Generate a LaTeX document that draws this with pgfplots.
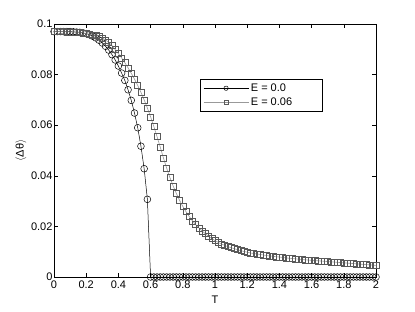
\documentclass[border=0pt]{standalone}
\usepackage{pgfplots}
\pgfplotsset{compat=1.18}
\usepackage{pgfplotstable}
\usepackage{fontspec}
\setmainfont{Liberation Sans}

\pgfplotstableread{
x y
0.00 0.0970
0.02 0.0970
0.04 0.0970
0.06 0.0970
0.08 0.0970
0.10 0.0970
0.12 0.0969
0.14 0.0968
0.16 0.0967
0.18 0.0965
0.20 0.0962
0.22 0.0958
0.24 0.0952
0.26 0.0945
0.28 0.0936
0.30 0.0925
0.32 0.0912
0.34 0.0897
0.36 0.0879
0.38 0.0858
0.40 0.0834
0.42 0.0806
0.44 0.0777
0.46 0.0740
0.48 0.0698
0.50 0.0648
0.52 0.0590
0.54 0.0517
0.56 0.0428
0.58 0.0307
0.60 0
0.62 0
0.64 0
0.66 0
0.68 0
0.70 0
0.72 0
0.74 0
0.76 0
0.78 0
0.80 0
0.82 0
0.84 0
0.86 0
0.88 0
0.90 0
0.92 0
0.94 0
0.96 0
0.98 0
1.00 0
1.02 0
1.04 0
1.06 0
1.08 0
1.10 0
1.12 0
1.14 0
1.16 0
1.18 0
1.20 0
1.22 0
1.24 0
1.26 0
1.28 0
1.30 0
1.32 0
1.34 0
1.36 0
1.38 0
1.40 0
1.42 0
1.44 0
1.46 0
1.48 0
1.50 0
1.52 0
1.54 0
1.56 0
1.58 0
1.60 0
1.62 0
1.64 0
1.66 0
1.68 0
1.70 0
1.72 0
1.74 0
1.76 0
1.78 0
1.80 0
1.82 0
1.84 0
1.86 0
1.88 0
1.90 0
1.92 0
1.94 0
1.96 0
1.98 0
2.00 0
}\dataA

\pgfplotstableread{
x y
0.00 0.0970
0.02 0.0970
0.04 0.0970
0.06 0.0970
0.08 0.0969
0.10 0.0969
0.12 0.0968
0.14 0.0967
0.16 0.0966
0.18 0.0964
0.20 0.0962
0.22 0.0960
0.24 0.0957
0.26 0.0954
0.28 0.0950
0.30 0.0945
0.32 0.0937
0.34 0.0927
0.36 0.0915
0.38 0.0899
0.40 0.0883
0.42 0.0866
0.44 0.0847
0.46 0.0827
0.48 0.0805
0.50 0.0782
0.52 0.0757
0.54 0.0730
0.56 0.0700
0.58 0.0668
0.60 0.0633
0.62 0.0595
0.64 0.0555
0.66 0.0513
0.68 0.0470
0.70 0.0430
0.72 0.0393
0.74 0.0360
0.76 0.0330
0.78 0.0303
0.80 0.0279
0.82 0.0258
0.84 0.0239
0.86 0.0222
0.88 0.0207
0.90 0.0194
0.92 0.0182
0.94 0.0171
0.96 0.0161
0.98 0.0152
1.00 0.0144
1.02 0.0137
1.04 0.0130
1.06 0.0125
1.08 0.0120
1.10 0.0116
1.12 0.0112
1.14 0.0108
1.16 0.0104
1.18 0.0101
1.20 0.0098
1.22 0.0095
1.24 0.0093
1.26 0.0091
1.28 0.0089
1.30 0.0087
1.32 0.0085
1.34 0.0083
1.36 0.0082
1.38 0.0080
1.40 0.0079
1.42 0.0077
1.44 0.0076
1.46 0.0074
1.48 0.0073
1.50 0.0072
1.52 0.0070
1.54 0.0069
1.56 0.0068
1.58 0.0067
1.60 0.0066
1.62 0.0065
1.64 0.0064
1.66 0.0063
1.68 0.0062
1.70 0.0061
1.72 0.0060
1.74 0.0059
1.76 0.0058
1.78 0.0057
1.80 0.0056
1.82 0.0055
1.84 0.0054
1.86 0.0053
1.88 0.0052
1.90 0.0051
1.92 0.0050
1.94 0.0049
1.96 0.0048
1.98 0.0047
2.00 0.0046
}\dataB

\begin{document}
\begin{tikzpicture}
\path[use as bounding box] (-54bp,-35bp) rectangle (361bp,277bp);
\begin{axis}[
  scale only axis,
  width=322bp, height=253bp,
  anchor=south west, at={(0,0)},
  xmin=0, xmax=2, ymin=0, ymax=0.1,
  xtick={0,0.2,...,2.01},
  ytick={0,0.02,0.04,0.06,0.08,0.1},
  tick align=inside,
  major tick length=4bp,
  tick style={black, line width=0.5pt},
  axis line style={line width=0.6pt},
  xticklabel style={/pgf/number format/fixed, /pgf/number format/precision=2, yshift=-0.5bp},
  yticklabel style={/pgf/number format/fixed, /pgf/number format/precision=2, xshift=2bp},
  /pgf/number format/assume math mode=true,
  ticklabel style={font=\fontsize{11bp}{13bp}\selectfont},
  label style={font=\fontsize{11bp}{13bp}\selectfont},
  xlabel={T},
  ylabel={\ensuremath{\langle}Δθ\ensuremath{\rangle}},
  xlabel style={yshift=0bp},
  ylabel style={yshift=-2bp},
  clip=true,
  legend cell align=left,
  legend style={at={(axis cs:0.907,0.0781)}, anchor=north west,
    font=\fontsize{11bp}{13bp}\selectfont, draw=black, line width=0.5pt,
    inner ysep=2bp, inner xsep=3bp, row sep=1bp},
  legend image code/.code={
    \draw[#1, mark repeat=2, mark phase=2, mark size=2.2bp]
      plot coordinates {(0bp,0bp) (22.5bp,0bp) (45bp,0bp)};
  },
]
\addplot[black, line width=0.5pt, mark=o, mark size=3.4bp,
  mark options={line width=0.5pt, black}] table[x=x,y=y] {\dataA};
\addlegendentry{E = 0.0}
\addplot[black!40, line width=0.6pt, mark=square, mark size=3bp,
  mark options={line width=0.5pt, black!65}] table[x=x,y=y] {\dataB};
\addlegendentry{E = 0.06\hspace*{25bp}}
\end{axis}
\end{tikzpicture}
\end{document}
